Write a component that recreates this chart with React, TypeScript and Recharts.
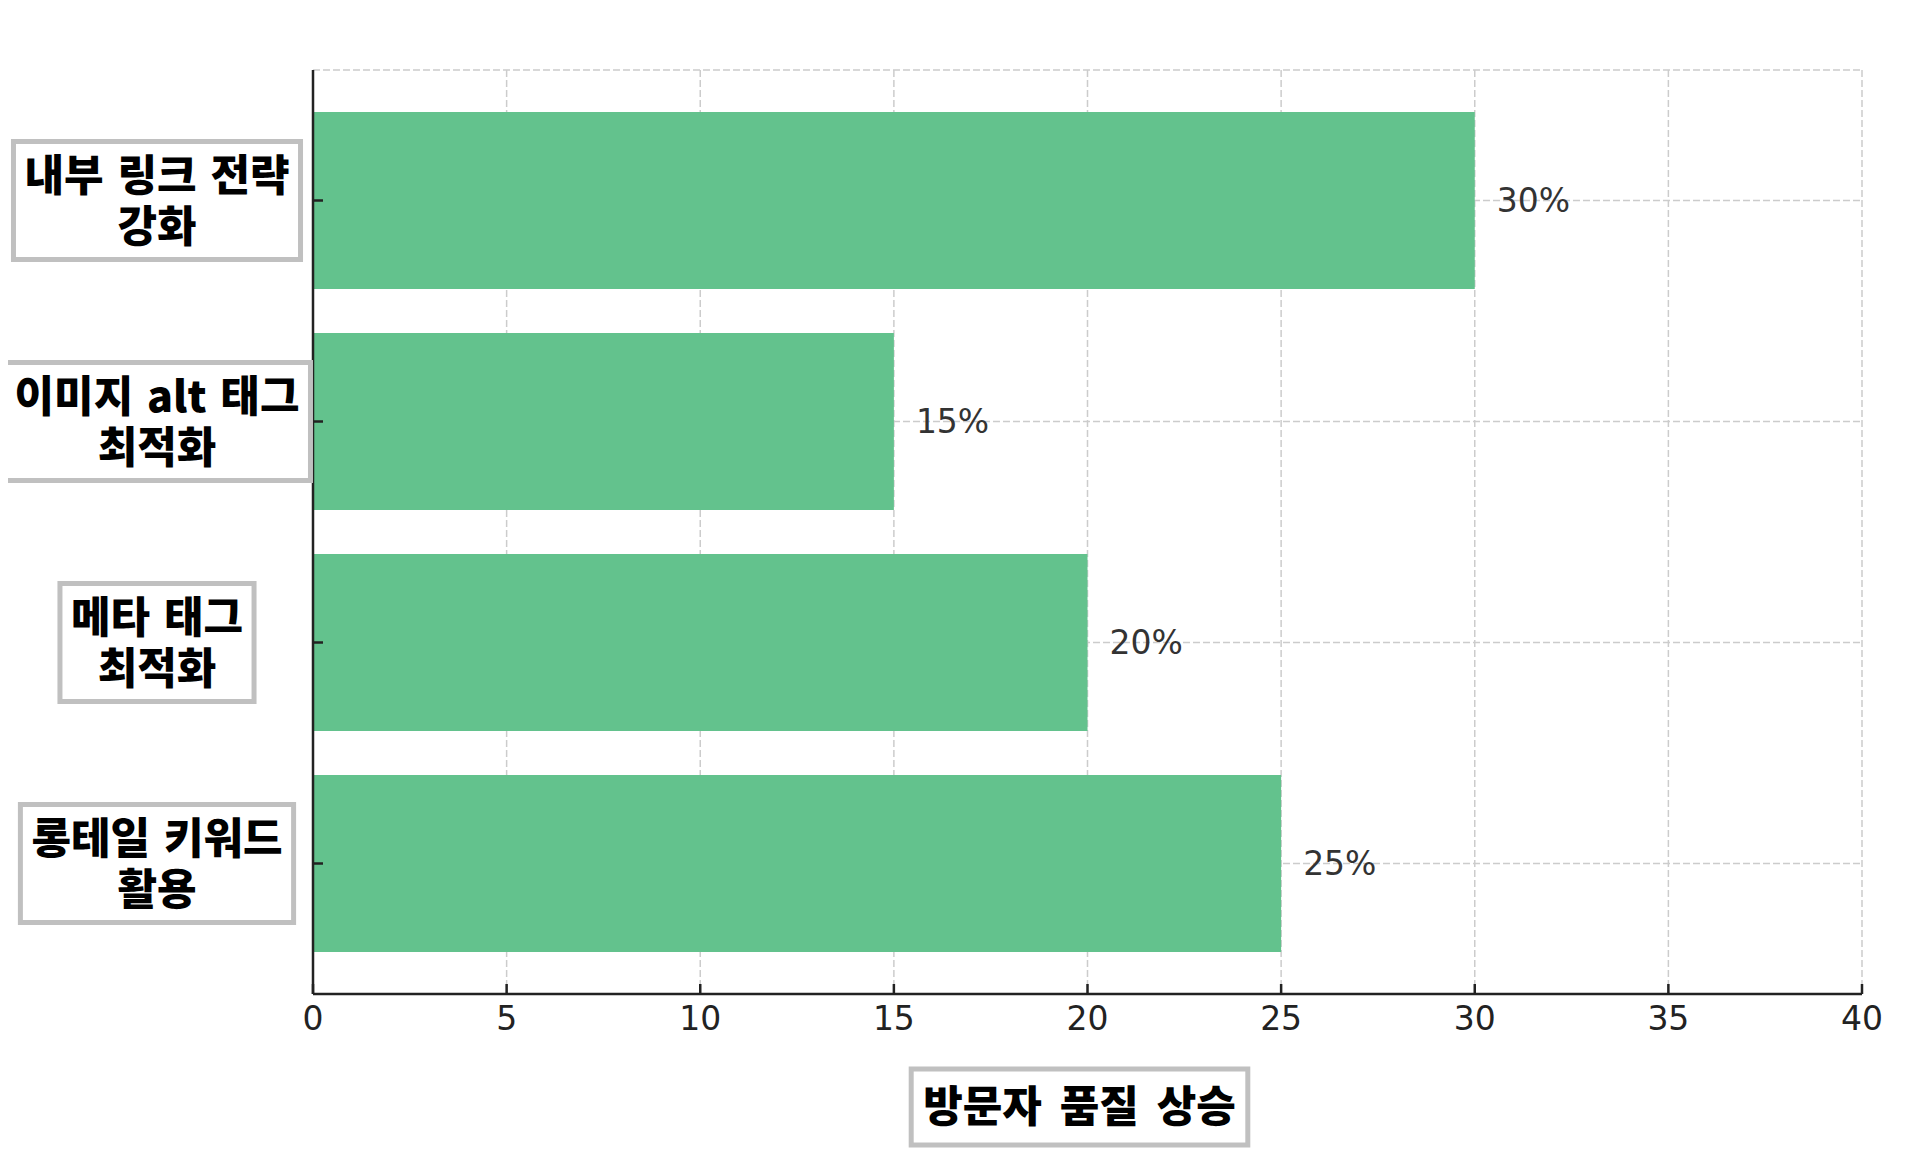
import React from 'react';
import { BarChart, Bar, XAxis, YAxis, CartesianGrid, LabelList } from 'recharts';

const categories = ['내부 링크 전략\n강화', '이미지 alt 태그\n최적화', '메타 태그\n최적화', '롱테일 키워드\n활용'];
const increases = [30, 15, 20, 25];
const xTicks = [0, 5, 10, 15, 20, 25, 30, 35, 40];
const xTitle = '방문자 품질 상승';

const data = categories.map((name, i) => ({ name, value: increases[i] }));

const BAR_COLOR = '#63C28D';
const BOX_STROKE = '#c0c0c0';
const LABEL_FONT = '"Noto Sans CJK KR", "Noto Sans", sans-serif';
const NUM_FONT = '"DejaVu Sans", sans-serif';
const LABEL_SIZE = 43;

let canvas: HTMLCanvasElement | null = null;
function textWidth(text: string, size: number, wordSpacing = 0) {
  const spaces = (text.match(/ /g) || []).length * wordSpacing;
  if (typeof document !== 'undefined') {
    if (!canvas) canvas = document.createElement('canvas');
    const ctx = canvas.getContext('2d');
    if (ctx) {
      ctx.font = `900 ${size}px "Noto Sans CJK KR"`;
      return ctx.measureText(text).width + spaces;
    }
  }
  // rough fallback
  let w = 0;
  for (const ch of text) w += /[\uac00-\ud7a3]/.test(ch) ? size * 0.92 : ch === ' ' ? size * 0.25 : size * 0.6;
  return w + spaces;
}

// boxed, two-line category label on the left
function CategoryTick(props: any) {
  const { x, y, payload } = props;
  const lines: string[] = String(payload.value).split('\n');
  const w = Math.max(...lines.map((l) => textWidth(l, LABEL_SIZE, 4))) + 22;
  const h = 118;
  const cx = x - 156;
  return (
    <g>
      <line x1={x} x2={x + 10} y1={y} y2={y} stroke="#222" strokeWidth={2.5} />
      <rect x={cx - w / 2} y={y - h / 2} width={w} height={h} fill="#fff" stroke={BOX_STROKE} strokeWidth={5} />
      <text
        textAnchor="middle"
        fontFamily={LABEL_FONT}
        fontWeight={900}
        fontSize={LABEL_SIZE}
        wordSpacing={4}
        fill="#000"
      >
        {lines.map((l, i) => (
          <tspan key={i} x={cx} y={y - 25 + i * 51} dy="0.36em">
            {l}
          </tspan>
        ))}
      </text>
    </g>
  );
}

// value tick with the tick mark pointing inward
function ValueTick(props: any) {
  const { x, y, payload } = props;
  return (
    <g>
      <line x1={x} x2={x} y1={y} y2={y - 10} stroke="#222" strokeWidth={2.5} />
      <text x={x} y={y + 36} textAnchor="middle" fontFamily={NUM_FONT} fontSize={33} fill="#222">
        {payload.value}
      </text>
    </g>
  );
}

function AxisTitle(props: any) {
  const vb = props.viewBox || { x: 0, y: 0, width: 0, height: 0 };
  const cx = vb.x + vb.width / 2 - 8;
  const cy = vb.y + 113;
  const w = textWidth(xTitle, LABEL_SIZE, 8) + 24;
  const h = 76;
  return (
    <g>
      <rect x={cx - w / 2} y={cy - h / 2} width={w} height={h} fill="#fff" stroke={BOX_STROKE} strokeWidth={5} />
      <text
        x={cx}
        y={cy}
        dy="0.36em"
        textAnchor="middle"
        fontFamily={LABEL_FONT}
        fontWeight={900}
        fontSize={LABEL_SIZE}
        wordSpacing={8}
        fill="#000"
      >
        {xTitle}
      </text>
    </g>
  );
}

export default function App() {
  return (
    <div style={{ width: 1908, height: 1152, background: '#fff' }}>
      <BarChart
        width={1908}
        height={1152}
        data={data}
        layout="vertical"
        margin={{ top: 62, right: 54, left: 0, bottom: 0 }}
        barCategoryGap="10%"
      >
        <CartesianGrid stroke="#cccccc" strokeDasharray="7 3" strokeWidth={1.5} />
        <XAxis
          type="number"
          domain={[0, 40]}
          ticks={xTicks}
          height={166}
          axisLine={{ stroke: '#222', strokeWidth: 2.5 }}
          tickLine={false}
          tickSize={0}
          tickMargin={0}
          tick={<ValueTick />}
          interval={0}
          label={{ content: (p: any) => <AxisTitle {...p} /> }}
        />
        <YAxis
          type="category"
          dataKey="name"
          width={305}
          padding={{ top: 20, bottom: 20 }}
          axisLine={{ stroke: '#222', strokeWidth: 2.5 }}
          tickLine={false}
          tickSize={0}
          tickMargin={0}
          tick={<CategoryTick />}
          interval={0}
        />
        <Bar dataKey="value" fill={BAR_COLOR} isAnimationActive={false}>
          <LabelList
            dataKey="value"
            position="right"
            offset={22}
            formatter={(v: any) => `${v}%`}
            fontFamily={NUM_FONT}
            fontSize={33}
            fill="#333"
          />
        </Bar>
      </BarChart>
    </div>
  );
}
